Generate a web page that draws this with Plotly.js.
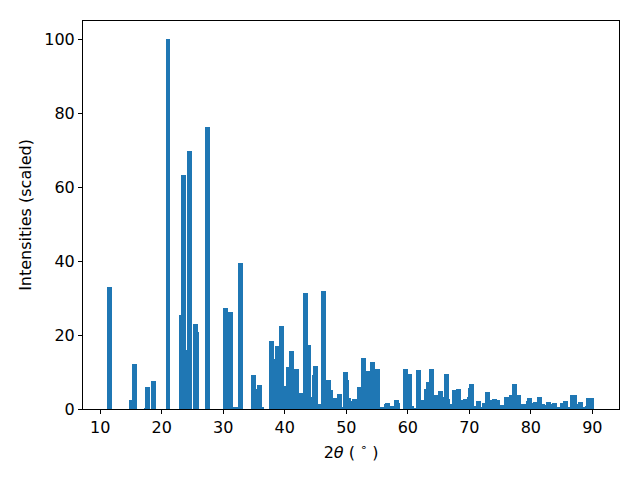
<!DOCTYPE html>
<html>
<head>
<meta charset="utf-8">
<script src="https://cdn.plot.ly/plotly-3.0.1.min.js"></script>
<style>html,body{margin:0;padding:0;background:#fff;}</style>
</head>
<body>
<div id="chart" style="width:640px;height:480px;"></div>
<script>
const twoTheta = [11.50, 15.07, 15.56, 17.50, 17.67, 18.65, 21.01, 23.20, 23.53, 23.93, 24.50, 25.48, 25.64, 27.43, 30.36, 31.17, 31.98, 32.20, 32.80, 34.91, 35.40, 35.89, 36.21, 37.84, 38.20, 38.81, 39.46, 40.03, 40.60, 41.09, 41.90, 42.72, 43.37, 43.85, 44.26, 44.83, 44.99, 45.80, 46.29, 47.11, 47.43, 48.24, 48.89, 49.30, 49.87, 50.03, 50.36, 51.17, 51.33, 52.15, 52.80, 53.61, 54.26, 55.07, 55.89, 56.54, 56.70, 57.43, 58.16, 58.32, 59.63, 60.28, 60.60, 61.00, 61.74, 62.55, 63.04, 63.37, 63.85, 64.67, 65.32, 65.72, 66.29, 66.46, 67.27, 67.59, 68.24, 69.06, 69.38, 70.03, 70.20, 70.36, 71.17, 71.50, 72.22, 72.47, 72.96, 73.77, 74.10, 74.59, 75.32, 76.05, 76.86, 77.35, 78.00, 78.81, 79.63, 79.79, 80.60, 80.76, 81.41, 81.90, 82.72, 82.88, 83.69, 83.85, 84.50, 85.15, 85.64, 86.20, 86.78, 87.11, 87.92, 88.08, 88.73, 89.14, 89.30, 89.87];
const intensities = [33.0, 2.4, 12.2, 0.3, 6.0, 7.6, 100, 25.5, 63.4, 16.0, 69.9, 23.0, 20.9, 76.4, 27.4, 26.3, 0.5, 0.3, 39.6, 9.2, 5.4, 6.5, 0.5, 18.4, 13.5, 17.1, 22.5, 6.2, 11.4, 15.7, 10.8, 4.3, 31.4, 17.3, 3.3, 9.2, 11.6, 1.4, 32.0, 7.9, 5.1, 3.0, 4.1, 0.5, 10.0, 7.9, 3.0, 2.2, 2.7, 6.0, 13.8, 10.3, 12.7, 10.8, 0.5, 1.4, 1.6, 0.8, 2.4, 1.6, 10.8, 9.5, 0.8, 0.3, 10.6, 2.4, 5.4, 7.3, 10.8, 3.8, 4.9, 3.3, 9.5, 2.6, 1.4, 5.1, 5.4, 2.4, 2.7, 3.3, 5.7, 6.8, 0.8, 2.2, 0.5, 1.6, 4.6, 2.4, 2.7, 2.4, 1.1, 3.3, 3.8, 6.8, 3.8, 1.4, 2.2, 3.0, 1.6, 1.9, 3.3, 1.4, 1.1, 1.9, 1.4, 1.6, 0.5, 1.6, 2.2, 0.5, 3.8, 3.8, 1.4, 1.9, 0.5, 0.8, 3.0, 3.0];
const xTicks = [10, 20, 30, 40, 50, 60, 70, 80, 90];
const yTicks = [0, 20, 40, 60, 80, 100];
const xTitle = "2<i>θ</i> ( <sup>∘</sup> )";
const yTitle = "Intensities (scaled)";

const font = {family: "DejaVu Sans, sans-serif", size: 16, color: "#000"};
const axisCommon = {
  showline: true, mirror: true, linecolor: "#000", linewidth: 1,
  ticks: "outside", ticklen: 4, tickwidth: 1, tickcolor: "#000",
  showgrid: false, zeroline: false, tickfont: font
};
Plotly.newPlot("chart", [{
  type: "bar", x: twoTheta, y: intensities, width: 0.8,
  marker: {color: "#1f77b4", line: {width: 0}}
}], {
  width: 640, height: 480,
  margin: {l: 83, r: 21, t: 21, b: 71},
  paper_bgcolor: "#fff", plot_bgcolor: "#fff",
  showlegend: false, bargap: 0,
  font: font,
  xaxis: Object.assign({}, axisCommon, {
    range: [7.19, 94.34], tickvals: xTicks, ticktext: xTicks.map(String),
    title: {text: xTitle, font: font, standoff: 10}
  }),
  yaxis: Object.assign({}, axisCommon, {
    range: [0, 105], tickvals: yTicks, ticktext: yTicks.map(String),
    title: {text: yTitle, font: font, standoff: 8}
  })
}, {staticPlot: true});
</script>
</body>
</html>
